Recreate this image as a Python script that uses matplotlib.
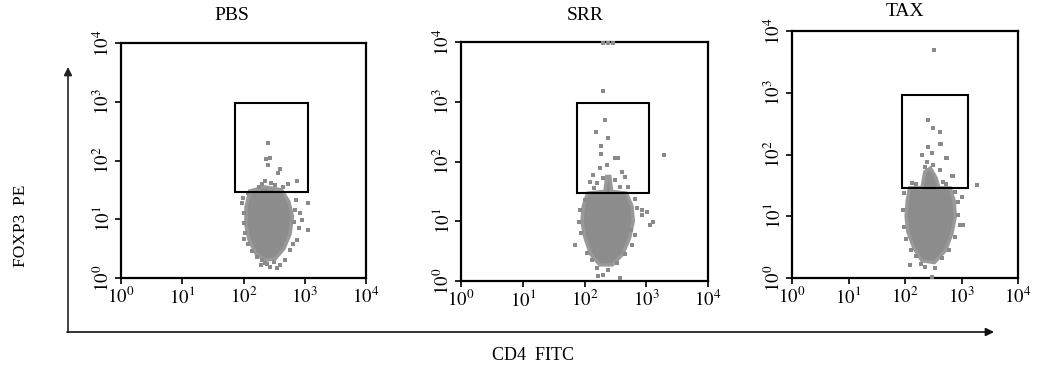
import matplotlib
matplotlib.use("Agg")
import matplotlib.pyplot as plt
from matplotlib.patches import Rectangle, Polygon
import numpy as np

plt.rcParams['font.family'] = ['Liberation Serif', 'DejaVu Serif']
plt.rcParams['mathtext.fontset'] = 'stix'

W, H = 1048, 369

# ---------------- data (log10 units) ----------------
titles = ["PBS", "SRR", "TAX"]
decades = [0, 1, 2, 3, 4]
tick_labels = [r"$10^{0}$", r"$10^{1}$", r"$10^{2}$", r"$10^{3}$", r"$10^{4}$"]

# gate rectangles: (log x0, log x1, log y0, log y1)
gate_pbs = (1.86, 3.05, 1.46, 2.98)
gate_srr = (1.88, 3.04, 1.47, 2.98)
gate_tax = (1.95, 3.12, 1.46, 2.96)

# dense core outlines (log CD4, log FOXP3)
core_pbs = [(2.10, 1.48), (2.35, 1.55), (2.62, 1.50), (2.74, 1.30), (2.80, 1.05),
            (2.76, 0.75), (2.66, 0.50), (2.52, 0.33), (2.35, 0.30), (2.20, 0.42),
            (2.09, 0.65), (2.04, 0.90), (2.04, 1.20)]
core_srr = [(2.05, 1.47), (2.33, 1.50), (2.36, 1.75), (2.41, 1.75), (2.44, 1.50),
            (2.68, 1.47), (2.77, 1.25), (2.79, 1.00), (2.73, 0.72), (2.62, 0.45),
            (2.45, 0.27), (2.25, 0.27), (2.10, 0.45), (2.00, 0.75), (1.96, 1.00),
            (1.98, 1.25)]
core_tax = [(2.08, 1.46), (2.30, 1.46), (2.35, 1.72), (2.45, 1.78), (2.55, 1.62),
            (2.60, 1.46), (2.80, 1.46), (2.87, 1.25), (2.89, 1.00), (2.83, 0.72),
            (2.72, 0.45), (2.52, 0.25), (2.30, 0.28), (2.16, 0.48), (2.05, 0.75),
            (2.02, 1.00), (2.04, 1.25)]

# individual events outside the dense core (log CD4, log FOXP3)
pts_pbs = [(1.97, 1.27), (2.00, 1.10), (2.00, 0.93), (2.03, 0.76), (2.08, 0.58),
           (2.14, 0.46), (2.22, 0.36), (2.30, 0.30), (2.35, 0.25), (2.43, 0.19),
           (2.60, 0.22), (2.68, 0.31), (2.76, 0.48), (2.87, 0.65), (2.90, 0.85),
           (2.95, 0.99), (3.05, 0.82), (3.05, 1.28), (2.86, 1.33), (2.84, 1.16),
           (2.08, 1.44), (2.19, 1.40), (2.40, 2.30), (2.37, 2.03), (2.43, 2.04),
           (2.40, 1.92), (2.60, 1.86), (2.56, 1.79), (2.87, 1.65), (2.30, 1.60),
           (2.35, 1.65), (2.45, 1.62), (2.52, 1.58), (2.65, 1.55), (2.25, 1.55),
           (2.72, 1.60), (2.83, 0.95), (2.01, 0.66), (2.50, 0.27), (2.38, 0.24),
           (2.92, 1.10), (1.99, 1.36), (2.55, 0.17), (2.80, 0.58), (2.28, 0.22)]
pts_srr = [(2.30, 3.18), (2.34, 2.69), (2.19, 2.49), (2.38, 2.39), (2.27, 2.26),
           (3.29, 2.11), (2.54, 2.06), (2.27, 2.13), (2.49, 2.06), (2.36, 1.94),
           (2.25, 1.89), (2.14, 1.77), (2.60, 1.82), (2.66, 1.74), (2.09, 1.66),
           (2.20, 1.64), (2.70, 1.57), (2.49, 1.69), (2.30, 1.72), (2.85, 1.22),
           (2.93, 1.19), (3.01, 1.16), (2.93, 1.10), (3.11, 0.99), (3.06, 0.94),
           (2.82, 0.77), (2.77, 0.60), (1.91, 0.99), (1.85, 0.60), (1.94, 0.80),
           (1.93, 1.19), (2.00, 1.36), (2.04, 0.47), (2.12, 0.35), (2.20, 0.22),
           (2.22, 0.08), (2.30, 0.10), (2.57, 0.05), (2.38, 0.18), (2.52, 0.30),
           (2.66, 0.45), (2.76, 0.85), (2.30, 3.99), (2.38, 3.99), (2.46, 3.99),
           (2.58, 1.58), (2.16, 1.55), (2.82, 1.38)]
pts_tax = [(2.51, 3.69), (2.41, 2.56), (2.50, 2.43), (2.62, 2.36), (2.64, 2.17),
           (2.41, 2.12), (2.73, 1.94), (2.85, 1.65), (3.27, 1.51), (2.62, 2.17),
           (2.30, 1.99), (2.48, 2.02), (2.74, 1.94), (2.39, 1.88), (2.50, 1.83),
           (2.62, 1.75), (2.83, 1.65), (2.12, 1.54), (2.35, 1.80), (2.67, 1.55),
           (1.98, 1.37), (1.96, 1.10), (1.98, 0.83), (2.01, 0.63), (2.10, 0.45),
           (2.09, 0.21), (2.28, 0.22), (2.35, 0.18), (2.53, 0.16), (2.48, 0.02),
           (2.78, 0.45), (2.88, 0.67), (2.97, 0.86), (3.03, 0.86), (2.94, 1.02),
           (2.94, 1.23), (3.01, 1.31), (2.88, 1.39), (2.20, 0.35), (2.65, 0.32),
           (2.72, 1.52), (2.20, 1.52)]

x_label = "CD4  FITC"
y_label = "FOXP3  PE"

panels = [
    (titles[0], gate_pbs, core_pbs, pts_pbs, (121, 366, 43, 278), (232, 15)),
    (titles[1], gate_srr, core_srr, pts_srr, (461, 708, 42, 281), (585, 15)),
    (titles[2], gate_tax, core_tax, pts_tax, (792, 1018, 31, 278), (905, 11)),
]

fig = plt.figure(figsize=(W / 100, H / 100), dpi=100)
fig.patch.set_facecolor("white")

ax0 = fig.add_axes([0, 0, 1, 1], facecolor="none")
ax0.set_xlim(0, W)
ax0.set_ylim(H, 0)
ax0.axis("off")

cloud_col = "#8c8c8c"
for title, gate, core, pts, (l, r, t, b), (tx, ty) in panels:
    ax = fig.add_axes([l / W, 1 - b / H, (r - l) / W, (b - t) / H])
    ax.set_xscale("log")
    ax.set_yscale("log")
    ax.set_xlim(1, 1e4)
    ax.set_ylim(1, 1e4)
    core_arr = 10 ** np.array(core)
    ax.add_patch(Polygon(core_arr, closed=True, facecolor=cloud_col,
                         edgecolor="#999999", linewidth=2.5, zorder=2))
    p = 10 ** np.array(pts)
    ax.scatter(p[:, 0], p[:, 1], s=7, marker="s", color="#8a8a8a",
               linewidths=0, zorder=3, clip_on=False)
    gx0, gx1, gy0, gy1 = [10 ** v for v in gate]
    ax.add_patch(Rectangle((gx0, gy0), gx1 - gx0, gy1 - gy0, fill=False,
                           edgecolor="black", linewidth=1.5, zorder=4))
    ticks = [10 ** d for d in decades]
    ax.set_xticks(ticks)
    ax.set_yticks(ticks)
    ax.set_xticklabels(tick_labels, fontsize=13.5)
    ax.set_yticklabels(tick_labels, fontsize=13.5, rotation=90, va="center")
    ax.minorticks_off()
    ax.tick_params(axis="both", direction="out", length=4, width=1.2, pad=2)
    for s in ax.spines.values():
        s.set_linewidth(1.6)
    ax0.text(tx, ty, title, ha="center", va="center", fontsize=14)

# global axis arrows
ax0.annotate("", xy=(68, 67), xytext=(68, 332),
             arrowprops=dict(arrowstyle="-|>", color="#222222", lw=1.2,
                             mutation_scale=12, shrinkA=0, shrinkB=0))
ax0.annotate("", xy=(994, 332), xytext=(67, 332),
             arrowprops=dict(arrowstyle="-|>", color="#111111", lw=1.2,
                             mutation_scale=12, shrinkA=0, shrinkB=0))
ax0.text(533, 356, x_label, ha="center", va="center", fontsize=13)
ax0.text(21, 226, y_label, ha="center", va="center", fontsize=12.5, rotation=90)

fig.savefig("out.png", dpi=100, facecolor="white")
